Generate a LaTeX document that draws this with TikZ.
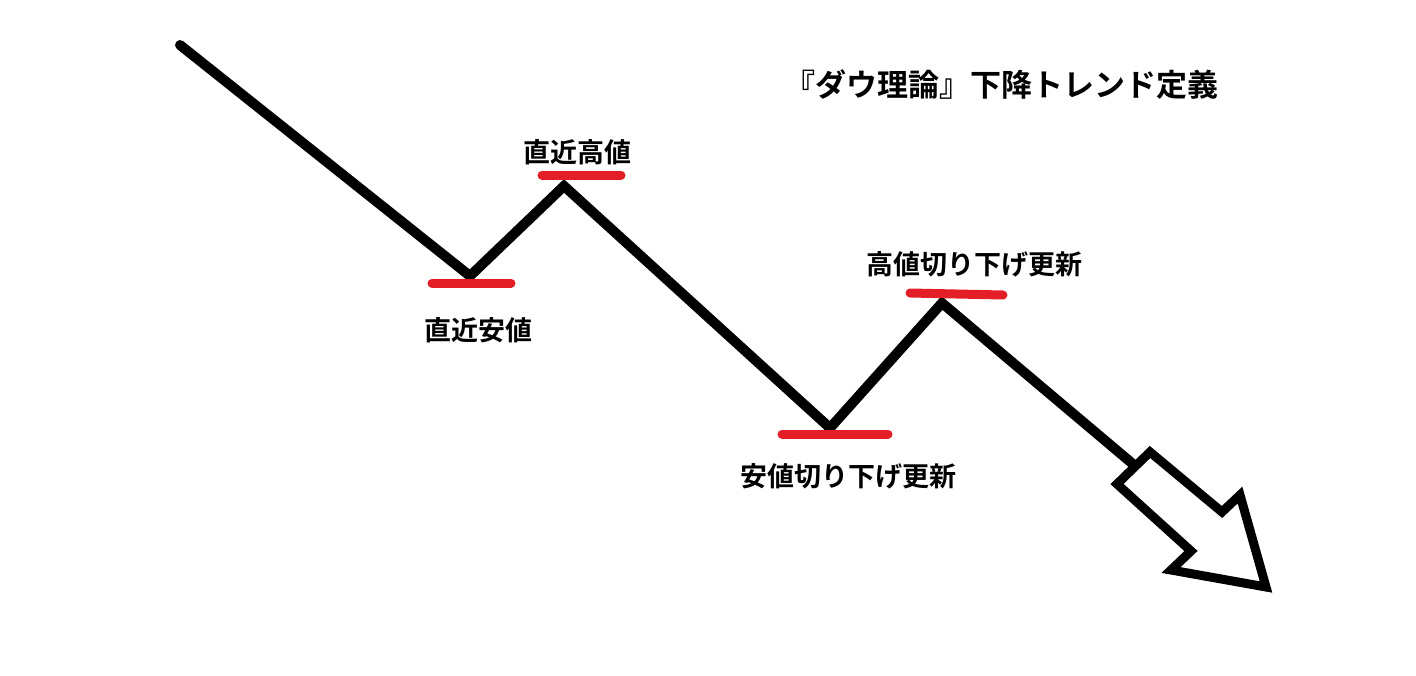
\documentclass[tikz,border=0pt]{standalone}
\usepackage{fontspec}
\newfontfamily\jp{Noto Sans CJK JP Bold}
\tikzset{
  zig/.style={line width=10pt, line join=miter, line cap=round, black},
  redmark/.style={line width=9pt, line cap=round, draw={rgb,255:red,228;green,30;blue,38}},
  lbl/.style={font=\jp\fontsize{27}{30}\selectfont, inner sep=0pt},
  ttl/.style={font=\jp\fontsize{31}{34}\selectfont, inner sep=0pt},
  arrowshape/.style={line width=9pt, line join=miter, fill=white, draw=black}
}
\begin{document}
\begin{tikzpicture}[x=1pt,y=-1pt]
\useasboundingbox (0,0) rectangle (1416,675);
\coordinate (p0) at (180,45);
\coordinate (p1) at (470,276);
\coordinate (p2) at (564,186);
\coordinate (p3) at (830,428);
\coordinate (p4) at (942,303);
\coordinate (p5) at (1140,470);
\draw[zig] (p0) -- (p1) -- (p2) -- (p3) -- (p4) -- (p5);
% arrow
\draw[arrowshape] (1117,484) -- (1150,452) -- (1222,512) -- (1240,495) -- (1266,587) -- (1171,570) -- (1191,551) -- cycle;
% red marks
\coordinate (m1a) at (432,283); \coordinate (m1b) at (511,283);
\coordinate (m2a) at (542,175); \coordinate (m2b) at (621,175);
\coordinate (m3a) at (782,434); \coordinate (m3b) at (888,434);
\coordinate (m4a) at (910,293); \coordinate (m4b) at (1003,295);
\draw[redmark] (m1a) -- (m1b);
\draw[redmark] (m2a) -- (m2b);
\draw[redmark] (m3a) -- (m3b);
\draw[redmark] (m4a) -- (m4b);
% labels
\node[lbl] (l1) at (478,330) {直近安値};
\node[lbl] (l2) at (577,152) {直近高値};
\node[lbl] (l3) at (848,476) {安値切り下げ更新};
\node[lbl] (l4) at (974,264) {高値切り下げ更新};
\node[ttl] (t) at (1001,85) {『ダウ理論』下降トレンド定義};
\end{tikzpicture}
\end{document}
